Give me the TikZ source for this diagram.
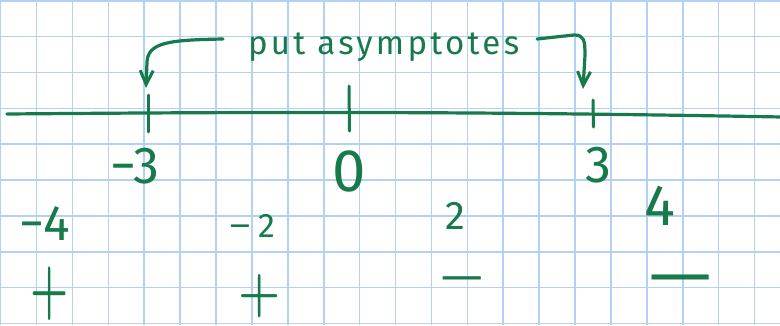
\documentclass[tikz,border=0pt]{standalone}
\usepackage{fontspec}
\setmainfont{Fira Sans}
\newfontfamily\plusfont{Latin Modern Roman}
\usetikzlibrary{arrows.meta}
\definecolor{ink}{RGB}{22,122,74}
\definecolor{gridblue}{RGB}{178,210,245}
\tikzset{
  inkline/.style={draw=ink, line width=3.2pt, line cap=round, line join=round},
  tickmark/.style={draw=ink, line width=3pt, line cap=round},
  hand/.style={text=ink, inner sep=0pt, outer sep=0pt},
  pointer/.style={inkline, -{Straight Barb[length=14pt,width=13pt,line width=3pt]}},
}
\begin{document}
\begin{tikzpicture}[x=1pt,y=-1pt]
\useasboundingbox (0,0) rectangle (780,325);
\fill[white] (0,0) rectangle (780,325);
% grid
\foreach \k in {0,...,21} {
  \draw[gridblue, line width=1.6pt] ({0.6+35.9*\k},0) -- ({0.6+35.9*\k},325);
}
\foreach \k in {0,...,9} {
  \draw[gridblue, line width=1.6pt] (0,{0.8+35.85*\k}) -- (780,{0.8+35.85*\k});
}
% number line
\coordinate (lineL) at (7,114);
\coordinate (lineR) at (782,117);
\draw[inkline] (lineL) .. controls (250,112) and (450,111) .. (lineR);
% ticks
\coordinate (t3top) at (148,95);
\coordinate (t3bot) at (148,132);
\coordinate (t0top) at (349,86);
\coordinate (t0bot) at (349.5,131);
\coordinate (tp3top) at (593,100);
\coordinate (tp3bot) at (593.5,127);
\draw[tickmark] (t3top) -- (t3bot);
\draw[tickmark] (t0top) -- (t0bot);
\draw[tickmark] (tp3top) -- (tp3bot);
% label
\node[hand, anchor=base west, font=\fontsize{33}{36}\selectfont\addfontfeatures{LetterSpace=10}] (note) at (248,54) {put asymptotes};
\coordinate (noteL) at (223,39);
\coordinate (noteR) at (537,39);
\coordinate (tipL) at (146,88);
\coordinate (tipR) at (583,89);
\draw[pointer] (noteL) .. controls (170,40) and (148,42) .. (147,62) -- (tipL);
\draw[pointer] (noteR) -- (574,35) .. controls (584,35) and (585,40) .. (585,55) -- (tipR);
% axis labels
\node[hand, font=\fontsize{52}{56}\selectfont] (lm3) at (135,166) {−3};
\node[hand, font=\fontsize{60}{64}\selectfont] (l0) at (349,171) {0};
\node[hand, font=\fontsize{52}{56}\selectfont] (l3) at (598,165) {3};
% test points
\node[hand, font=\fontsize{50}{54}\selectfont] (pm4) at (45,224) {−4};
\node[hand, font=\fontsize{34}{38}\selectfont] (pm2) at (252,226) {\scalebox{1.4}[1]{−}\hspace{0.2em}2};
\node[hand, font=\fontsize{40}{44}\selectfont] (p2) at (455,216) {2};
\node[hand, font=\fontsize{58}{62}\selectfont] (p4) at (660,206) {4};
% signs
\node[hand, font=\plusfont\bfseries\fontsize{46}{50}\selectfont] (s1) at (50,294) {\scalebox{0.95}[1.55]{+}};
\node[hand, font=\plusfont\bfseries\fontsize{46}{50}\selectfont] (s2) at (260,296) {\scalebox{1.05}[1.25]{+}};
\node[hand, font=\fontsize{42}{46}\selectfont] (s3) at (462,284) {\scalebox{1.25}[1]{—}};
\node[hand, font=\fontsize{64}{68}\selectfont] (s4) at (681,286) {\scalebox{1.23}[1]{—}};
\end{tikzpicture}
\end{document}
